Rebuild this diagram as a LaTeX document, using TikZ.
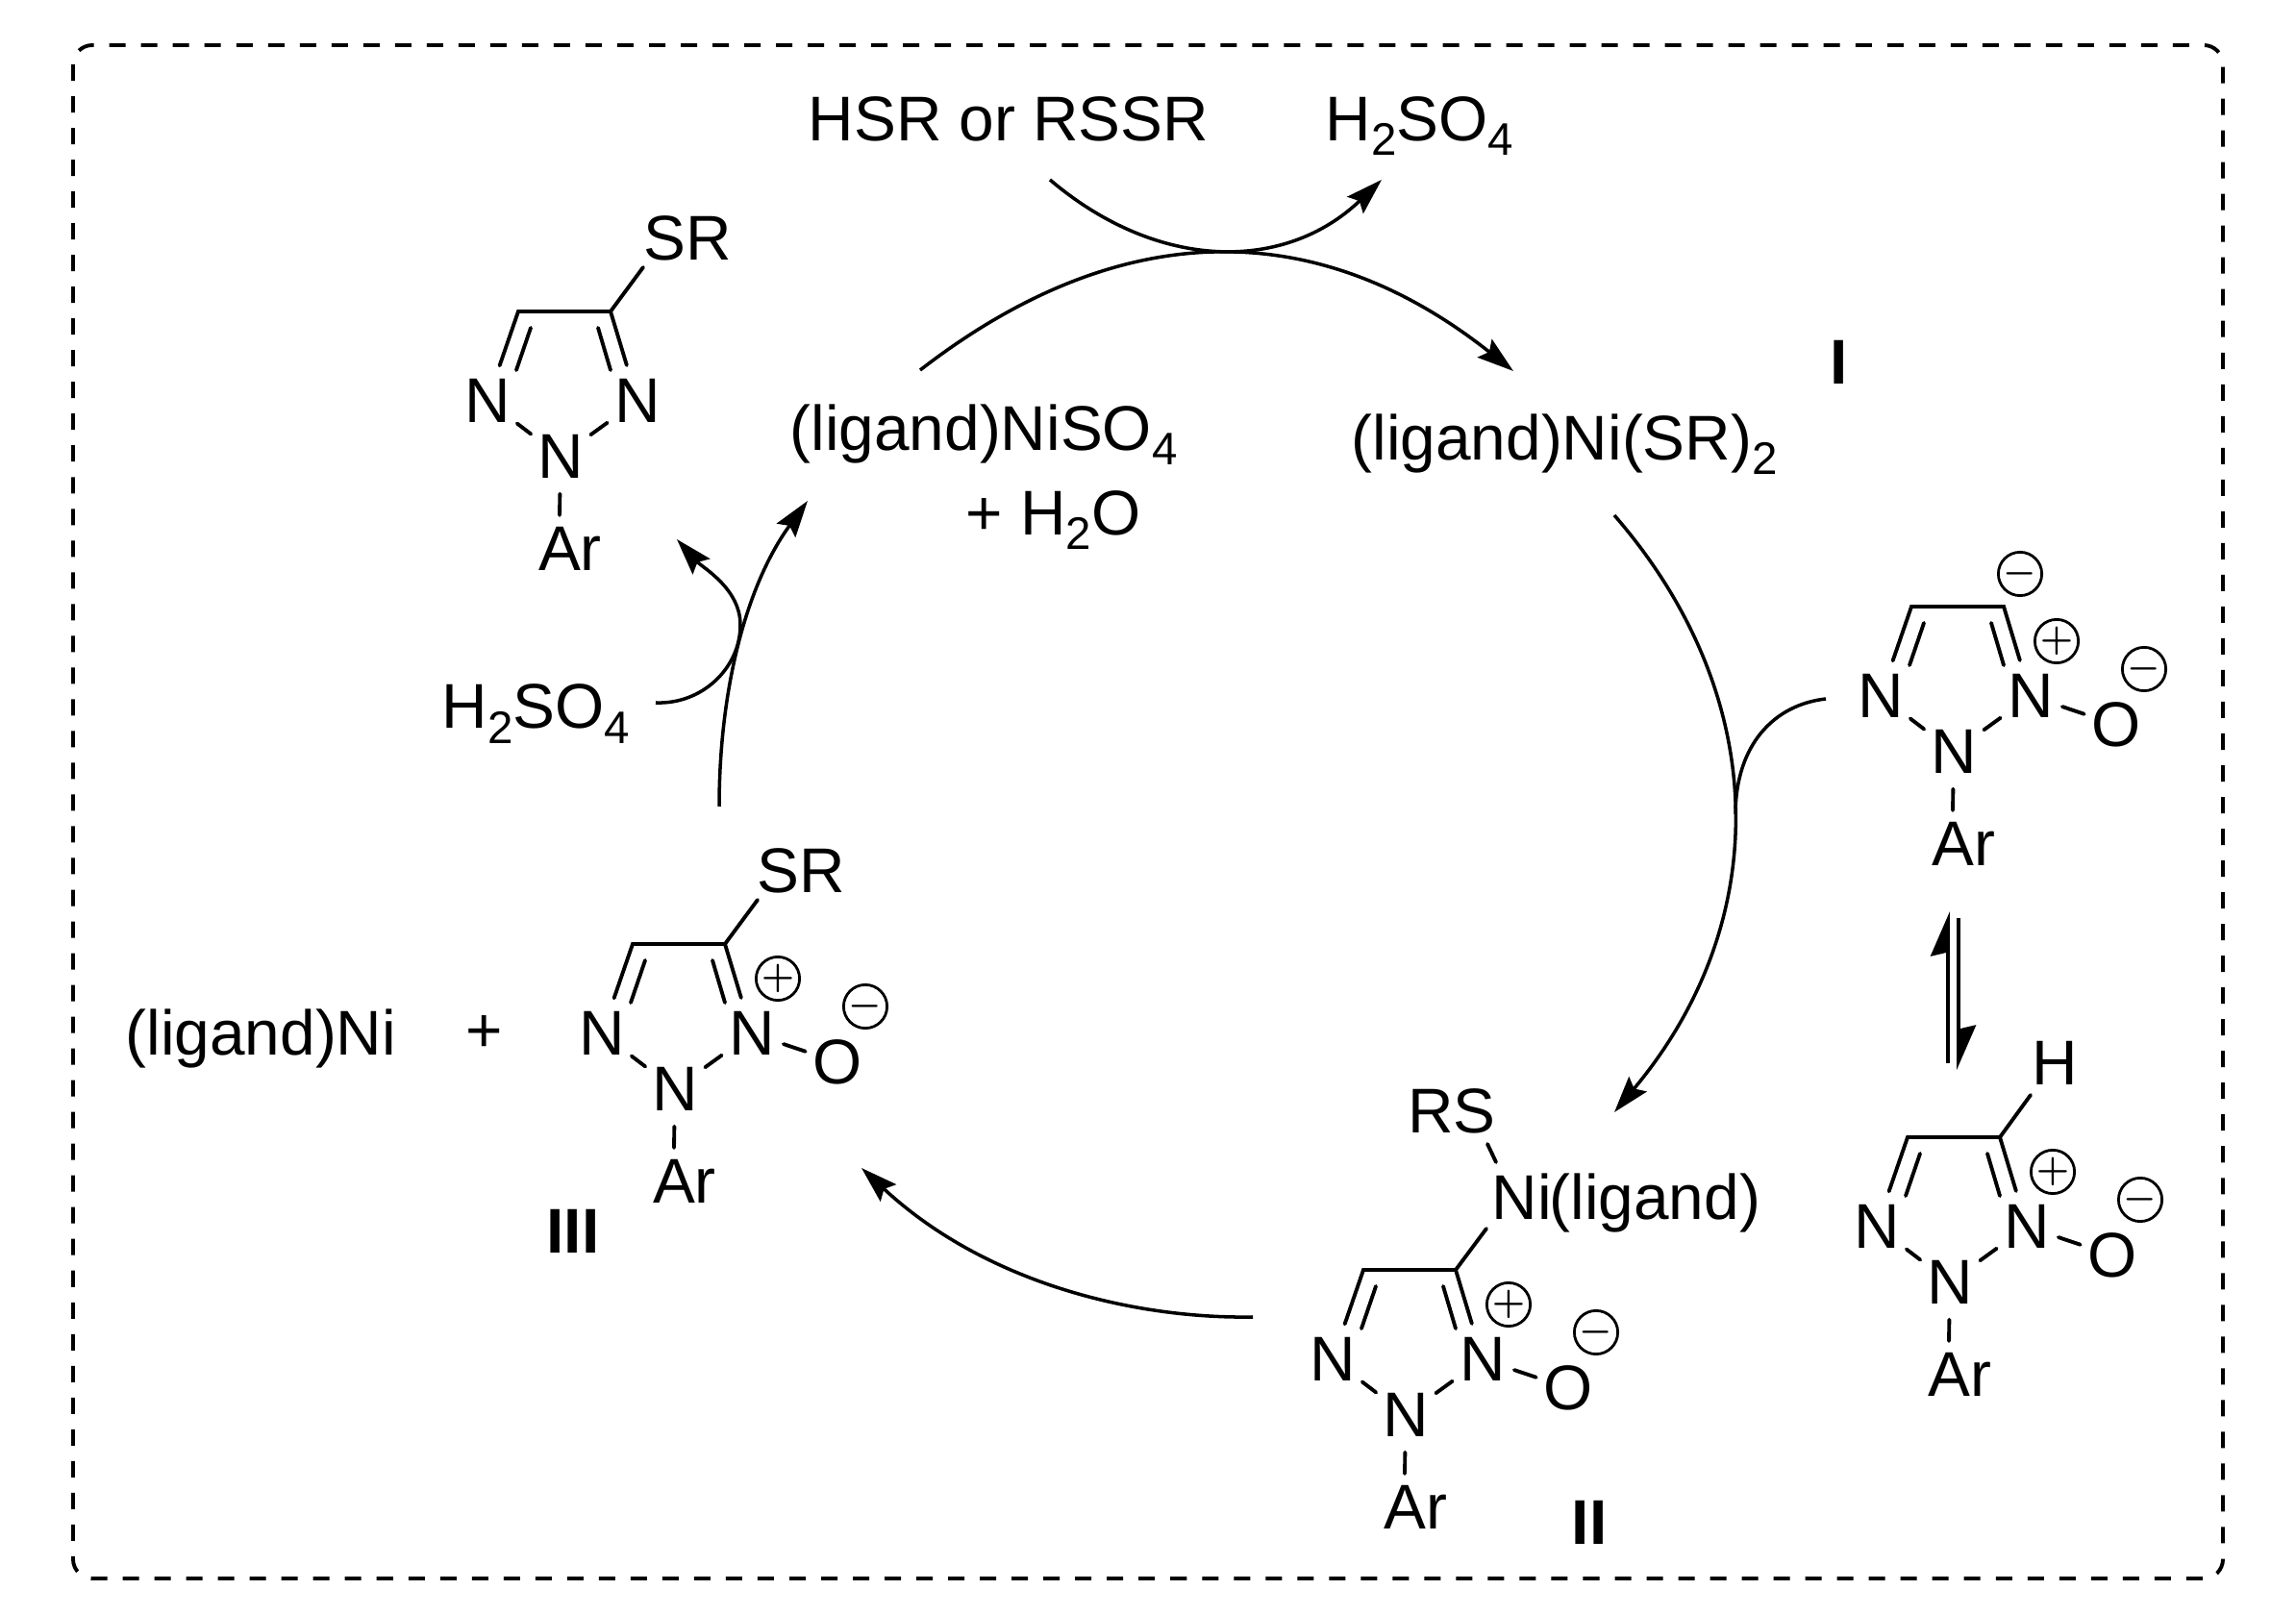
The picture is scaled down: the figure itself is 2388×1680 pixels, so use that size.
\documentclass[tikz,border=0pt]{standalone}
\usepackage{fontspec}
\setmainfont{Liberation Sans}
\usepackage{tikz}
\usetikzlibrary{arrows.meta}
\tikzset{>={Stealth[length=0.38cm,width=0.24cm,inset=0.06cm]}}
\tikzset{
  txt/.style={inner sep=0pt, anchor=base west, font=\fontsize{18.7}{22}\selectfont},
  label/.style={inner sep=0pt, font=\fontsize{18.7}{22}\selectfont\bfseries},
  atom/.style={circle, inner sep=0pt, minimum size=0.76cm, font=\fontsize{18.7}{22}\selectfont},
  chg/.style={circle, draw, line width=0.8pt, inner sep=0pt, minimum size=0.44cm, font=\fontsize{11}{11}\selectfont\boldmath},
  bond/.style={line width=1.1pt, line cap=round},
  curve/.style={line width=1pt},
  harp/.style={line width=1.1pt, -{Stealth[harpoon,length=0.42cm,width=0.36cm,inset=0.04cm]}},
  frame/.style={line width=1.1pt, dash pattern=on 0.17cm off 0.16cm, rounded corners=0.2cm}
}
% subscript in the text font
\newcommand{\subs}[1]{\raisebox{-0.15cm}{\fontsize{13.5}{14}\selectfont #1}}
% five membered ring, placed by its lower N
\newcommand{\triazole}[3]{
\begin{scope}[shift={(#2,#3)}]
\node[atom] (#1nb) at (0,0) {N};
\node[atom] (#1nl) at (-76,-58) {N};
\node[atom] (#1nr) at (80,-58) {N};
\node[atom] (#1ar) at (10,96) {Ar};
\coordinate (#1cl) at (-44,-151);
\coordinate (#1cr) at (52,-151);
\coordinate (#1li) at (-31,-134);
\coordinate (#1lj) at (-46,-90);
\coordinate (#1ri) at (39,-134);
\coordinate (#1rj) at (52,-90);
\coordinate (#1ak) at (-1,61);
\coordinate (#1sb) at (86,-197);
\draw[bond] (#1nl) -- (#1cl) -- (#1cr) -- (#1nr);
\draw[bond] (#1li) -- (#1lj) (#1ri) -- (#1rj);
\draw[bond] (#1nl) -- (#1nb) (#1nr) -- (#1nb) (#1nb) -- (#1ak);
\end{scope}}
% the N-oxide with its charges
\newcommand{\oxide}[3]{
\begin{scope}[shift={(#2,#3)}]
\node[atom, minimum size=0.68cm] (#1o) at (169,-28) {O};
\node[chg] (#1pl) at (107,-115) {$+$};
\node[chg] (#1mi) at (198,-86) {$-$};
\draw[bond, shorten <=-0.04cm] (#1nr) -- (#1o);
\end{scope}}

\begin{document}
\begin{tikzpicture}[x=0.01cm, y=-0.01cm]
\useasboundingbox (0,0) rectangle (2388,1680);
\draw[frame] (76,47) rectangle (2312,1642);

% top
\node[txt] (hsr) at (840,147) {HSR or RSSR};
\node[txt] (acidtop) at (1378,147) {H\subs{2}SO\subs{4}};
\coordinate (hsrend) at (1092,187);
\coordinate (acidend) at (1437,187);
\draw[curve, ->] (hsrend) .. controls (1205,283) and (1337,283) .. (acidend);

\node[txt] (niso) at (821,469) {(ligand)NiSO\subs{4}};
\node[txt] (water) at (1004,557) {+ H\subs{2}O};
\node[txt] (nisr) at (1405,479) {(ligand)Ni(SR)\subs{2}};
\node[label] (lab1) at (1913,377) {I};
\coordinate (cyclea) at (957,385);
\coordinate (cycleb) at (1574,386);
\draw[curve, ->] (cyclea) .. controls (1165,224) and (1370,224) .. (cycleb);

% right side
\triazole{a}{2032}{782}
\oxide{a}{2032}{782}
\node[chg] (amin) at (2101,597) {$-$};
\coordinate (cyclec) at (1679,536);
\coordinate (cycled) at (1679,1157);
\coordinate (cyclem) at (1805,847);
\coordinate (anionend) at (1899,727);
\draw[curve, ->] (cyclec) .. controls (1844,726) and (1844,960) .. (cycled);
\draw[curve] (anionend) .. controls (1845,733) and (1805,775) .. (cyclem);

\coordinate (equpa) at (2026,1106);
\coordinate (equpb) at (2026,948);
\coordinate (eqdna) at (2037,955);
\coordinate (eqdnb) at (2037,1113);
\draw[harp] (equpa) -- (equpb);
\draw[harp] (eqdna) -- (eqdnb);

\triazole{b}{2028}{1334}
\oxide{b}{2028}{1334}
\node[atom] (bh) at (2137,1106) {H};
\coordinate (bhend) at (2112,1139);
\draw[bond] (bcr) -- (bhend);

% complex II
\triazole{c}{1462}{1472}
\oxide{c}{1462}{1472}
\node[atom] (cni) at (1583,1245) {Ni};
\node[txt] (clig) at (1611,1268) {(ligand)};
\node[atom] (crs) at (1510,1156) {RS};
\coordinate (rsend) at (1547,1190);
\coordinate (niup) at (1556,1209);
\coordinate (nidown) at (1546,1278);
\draw[bond] (ccr) -- (nidown) (rsend) -- (niup);
\node[label] (lab2) at (1653,1584) {II};

\coordinate (cyclee) at (1303,1370);
\coordinate (cyclef) at (896,1215);
\draw[curve, ->] (cyclee) .. controls (1180,1372) and (1025,1335) .. (cyclef);

% III
\triazole{d}{702}{1133}
\oxide{d}{702}{1133}
\node[atom] (dsr) at (833,906) {SR};
\draw[bond] (dcr) -- (dsb);
\node[label] (lab3) at (596,1281) {III};
\node[txt] (dni) at (130,1097) {(ligand)Ni};
\node[txt] (plus) at (484,1095) {+};

% product
\triazole{e}{583}{475}
\node[atom] (esr) at (715,248) {SR};
\draw[bond] (ecr) -- (esb);

% left side
\node[txt] (acidleft) at (459,758) {H\subs{2}SO\subs{4}};
\coordinate (cycleg) at (748,839);
\coordinate (cycleh) at (840,521);
\draw[curve, ->] (cycleg) .. controls (748,720) and (775,610) .. (cycleh);
\coordinate (acidend2) at (682,731);
\coordinate (arpeak) at (770,650);
\coordinate (prodend) at (704,561);
\draw[curve, ->] (acidend2) .. controls (730,733) and (770,695) .. (arpeak) .. controls (770,612) and (730,590) .. (prodend);
\end{tikzpicture}
\end{document}
